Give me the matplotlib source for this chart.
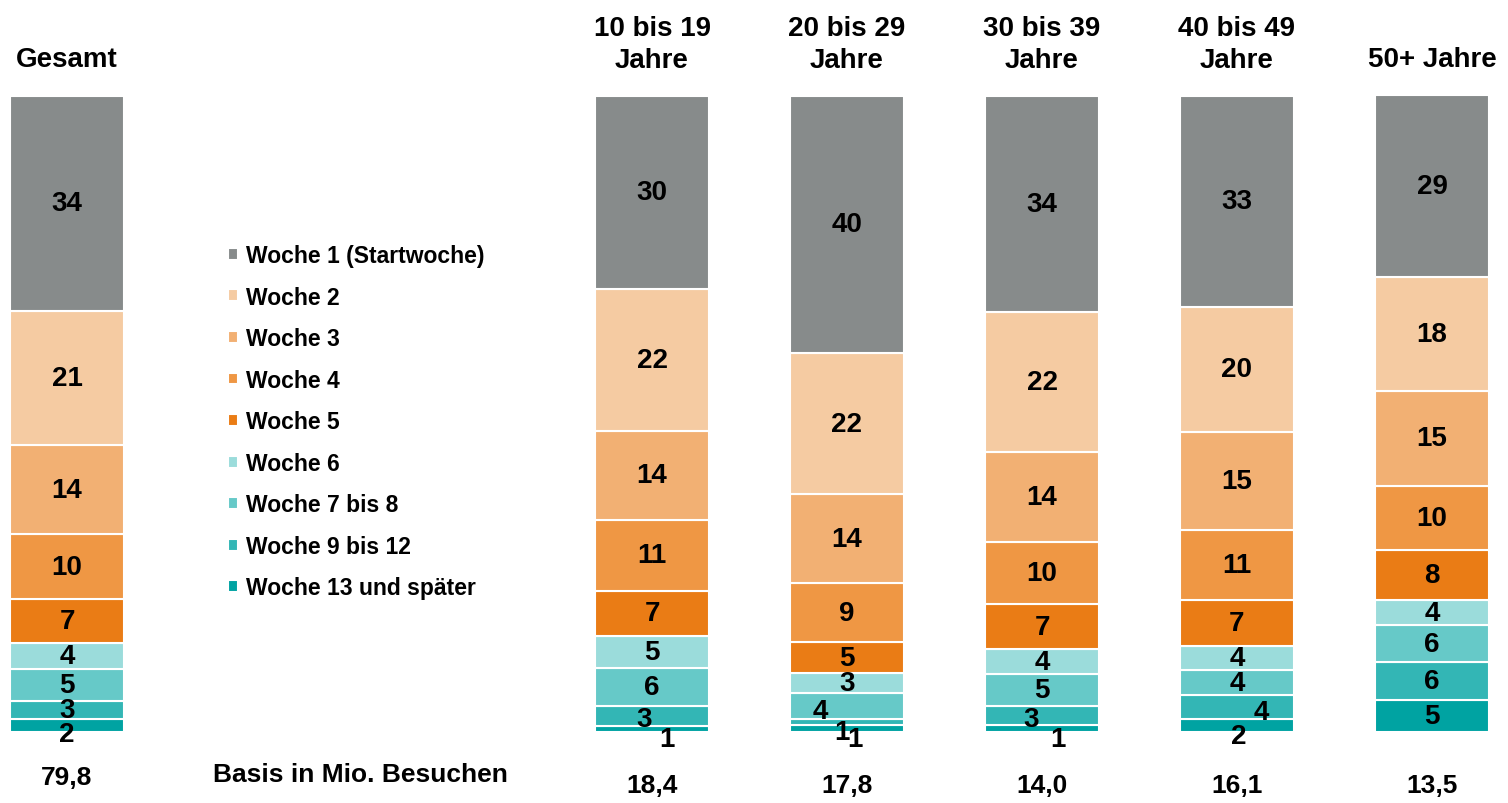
import matplotlib.pyplot as plt

# groups (columns) and basis values
groups = ["Gesamt", "10 bis 19\nJahre", "20 bis 29\nJahre", "30 bis 39\nJahre", "40 bis 49\nJahre", "50+ Jahre"]
basis = [79.8, 18.4, 17.8, 14.0, 16.1, 13.5]

weeks = ["Woche 1 (Startwoche)", "Woche 2", "Woche 3", "Woche 4", "Woche 5",
         "Woche 6", "Woche 7 bis 8", "Woche 9 bis 12", "Woche 13 und später"]

# shares in % per group, order Woche 1 ... Woche 13+
gesamt = [33.8, 21.1, 14.0, 10.2, 6.9, 4.1, 5.0, 2.9, 2.0]
j10_19 = [30.3, 22.3, 14.0, 11.2, 7.1, 5.0, 6.0, 3.1, 1.0]
j20_29 = [40.4, 22.2, 14.0, 9.3, 4.9, 3.1, 4.1, 0.9, 1.1]
j30_39 = [34.0, 21.9, 14.3, 9.7, 7.1, 3.9, 5.0, 3.0, 1.1]
j40_49 = [33.1, 19.7, 15.4, 11.1, 7.1, 3.9, 3.9, 3.8, 2.0]
j50plus = [28.6, 17.9, 14.9, 10.1, 7.9, 3.9, 5.8, 6.0, 5.0]
shares = [gesamt, j10_19, j20_29, j30_39, j40_49, j50plus]

colors = ["#878B8B", "#F5CBA2", "#F2B073", "#EF9744", "#EA7C15",
          "#9BDCDB", "#66C9C8", "#33B6B5", "#00A3A2"]

# x positions: Gesamt apart, legend in the gap
xpos = [0, 3, 4, 5, 6, 7]

# label nudges (pixels) for the tiny segments: (group, week) -> (dx, dy)
nudge = {
    (0, 8): (0, -8),
    (1, 7): (-8, -3), (1, 8): (15, -10),
    (2, 6): (-27, -5), (2, 7): (-5, -10), (2, 8): (8, -10),
    (3, 7): (-11, -4), (3, 8): (16, -10),
    (4, 7): (24, -5), (4, 8): (2, -10),
}

plt.rcParams['font.family'] = ['Liberation Sans', 'DejaVu Sans']
fig = plt.figure(figsize=(15.08, 8.04), dpi=100)
ax = fig.add_axes([0, 0, 1, 1])

px_x = 195.0
px_y = 6.36
ax.set_xlim(-67 / px_x, (1508 - 67) / px_x)
ax.set_ylim(-(804 - 733) / px_y, 100 + 97 / px_y)
ax.axis("off")

handles = []
for w in range(len(weeks) - 1, -1, -1):
    vals = [s[w] for s in shares]
    bottoms = [sum(s[w + 1:]) for s in shares]
    bars = ax.bar(xpos, vals, bottom=bottoms, width=0.585, color=colors[w],
                  edgecolor="white", linewidth=1.5, label=weeks[w])
    handles.insert(0, bars)
    for g, rect in enumerate(bars):
        dx, dy = nudge.get((g, w), (0, 0))
        ax.annotate(f"{vals[g]:.0f}", (rect.get_x() + rect.get_width() / 2, bottoms[g] + vals[g] / 2),
                    xytext=(dx, dy), textcoords="offset pixels",
                    ha="center", va="center", fontsize=20, fontweight="bold", color="black")

# column headers
trans = ax.get_xaxis_transform()
for g, name in enumerate(groups):
    yy = 1 - 60 / 804 if "\n" not in name else 1 - 45 / 804
    ax.text(xpos[g], yy, name, transform=trans, ha="center", va="center",
            fontsize=20, fontweight="bold", linespacing=1.3)

# basis row
for g, b in enumerate(basis):
    yy = 1 - 778 / 804 if g == 0 else 1 - 786 / 804
    ax.text(xpos[g], yy, f"{b:.1f}".replace(".", ","), transform=trans, ha="center", va="center",
            fontsize=19, fontweight="bold")
ax.text((360 - 67) / px_x, 1 - 775 / 804, "Basis in Mio. Besuchen", transform=trans,
        ha="center", va="center", fontsize=19, fontweight="bold")

ax.legend(handles=handles, loc="upper left", bbox_to_anchor=(228 / 1508, 1 - 245 / 804),
          frameon=False, prop={"weight": "bold", "size": 16.5},
          handlelength=0.42, handleheight=0.42, handletextpad=0.35,
          labelspacing=0.81, borderpad=0, borderaxespad=0)

plt.savefig("out.png", dpi=100)
plt.close()
